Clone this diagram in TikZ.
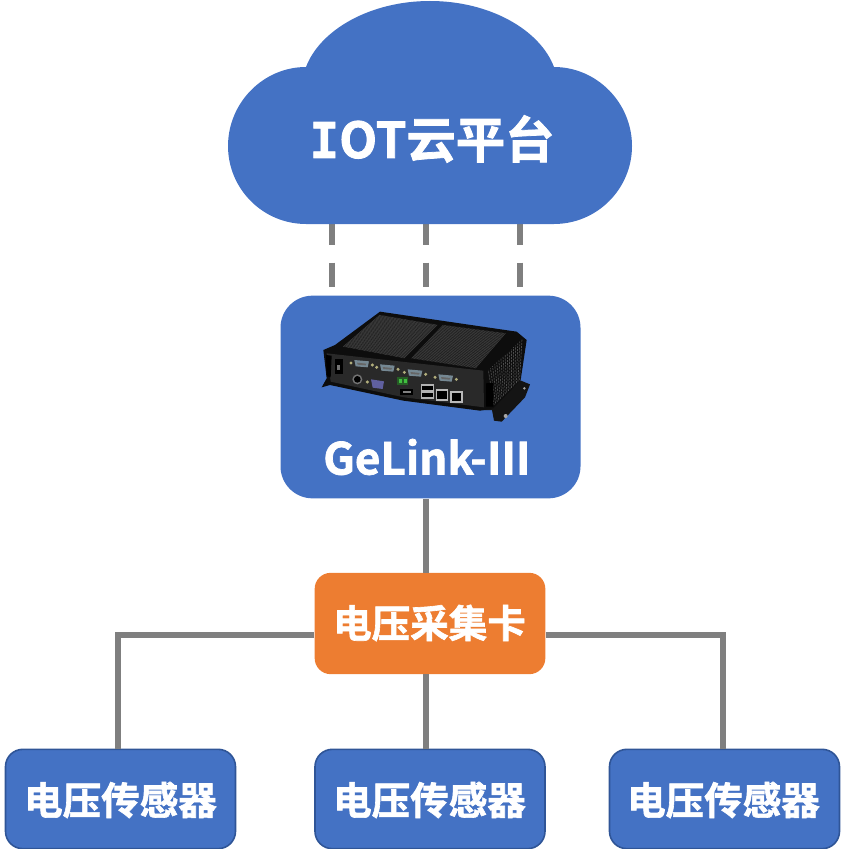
\documentclass[tikz,border=0pt]{standalone}
\usepackage{fontspec}
\newfontfamily\cjkf[BoldFont={Noto Sans CJK SC Bold},BoldFeatures={FakeBold=1.6}]{Noto Sans CJK SC}
\newfontfamily\slabf[BoldFeatures={FakeBold=1.2}]{DejaVu Sans Mono}
\definecolor{cblue}{HTML}{4472C4}
\definecolor{corange}{HTML}{ED7D31}
\definecolor{cgrey}{HTML}{7F7F7F}
\definecolor{cedge}{HTML}{2F5597}
\tikzset{
  px/.style={x=0.75pt,y=-0.75pt},
  txt/.style={text=white,font=\cjkf\bfseries,inner sep=0pt},
  bigtxt/.style={txt,font=\cjkf\bfseries\fontsize{37}{37}\selectfont},
  midtxt/.style={txt,font=\cjkf\bfseries\fontsize{28.9}{28.9}\selectfont},
  sensorbox/.style={draw=cedge,line width=1.2pt,fill=cblue,rounded corners=13pt,minimum width=172.5pt,minimum height=74.5pt,inner sep=0pt},
  link/.style={draw=cgrey,line width=4.5pt},
  dashlink/.style={draw=cgrey,line width=4.5pt,dash pattern=on 15.5pt off 13.5pt on 18pt off 100pt},
  fin/.style={line width=0.4pt,draw=black!74},
}
\begin{document}
\begin{tikzpicture}[px]
\useasboundingbox (0,0) rectangle (841,849);
% axes of the connectors
\coordinate (ax1) at (118,0);
\coordinate (ax2) at (426,0);
\coordinate (ax3) at (723,0);
\coordinate (dash1) at (332,0);
\coordinate (dash3) at (520,0);
\coordinate (bus) at (0,635);
% nodes
\node[minimum width=225pt,minimum height=152pt,fill=cblue,rounded corners=24pt,inner sep=0pt] (gelink) at (430.5,397) {};
\node[minimum width=173pt,minimum height=76pt,fill=corange,rounded corners=12pt,inner sep=0pt] (card) at (430,623.5) {};
\node[sensorbox] (s1) at (120.5,799) {};
\node[sensorbox] (s2) at (430,799) {};
\node[sensorbox] (s3) at (724.5,799) {};
\coordinate (cloudbase) at (430,224);
% connectors
\draw[dashlink] (cloudbase -| dash1) -- (gelink.north -| dash1);
\draw[dashlink] (cloudbase -| ax2) -- (gelink.north -| ax2);
\draw[dashlink] (cloudbase -| dash3) -- (gelink.north -| dash3);
\draw[link] (gelink.south -| ax2) -- (card.north -| ax2);
\draw[link] (card.south -| ax2) -- (s2.north -| ax2);
\draw[link] (card.west |- bus) -- (ax1 |- bus) -- (s1.north -| ax1);
\draw[link] (card.east |- bus) -- (ax3 |- bus) -- (s3.north -| ax3);
% cloud
\fill[cblue] (306,224) .. controls (263,224) and (228,189) .. (228,146)
  .. controls (228,103) and (263,67) .. (306,67)
  .. controls (320,30) and (370,1) .. (430,1)
  .. controls (490,1) and (540,30) .. (554,67)
  .. controls (597,67) and (632,103) .. (632,146)
  .. controls (632,189) and (597,224) .. (554,224) -- cycle;
% device picture (zoom coordinates)
\begin{scope}[shift={(280,290)},x=0.25pt,y=-0.25pt]
  % flange
  \fill[black!92] (600,360) -- (640,300) -- (718,270) -- (750,283) -- (735,322) -- (665,395) -- (642,392) -- (636,360) -- cycle;
  \fill[black!35] (677,378) circle (6);
  \fill[black!35] (733,295) circle (4);
  % body
  \fill[black!95] (130,180) -- (165,165) -- (300,65) -- (710,125) -- (740,150) -- (722,270) -- (640,355) -- (600,362) -- (370,332) -- (150,285) -- (125,292) -- (140,265) -- cycle;
  % fins of the top panels
  \foreach \t in {0,0.02,...,1}{
    \draw[fin] ({190+\t*185},{170+\t*35}) -- ({300+\t*175},{75+\t*30});
    \draw[fin] ({395+\t*195},{205+\t*30}) -- ({490+\t*190},{105+\t*25});
  }
  % right side fins
  \foreach \t in {0,0.06,...,1}{
    \draw[line width=0.55pt,draw=black!70,dash pattern=on 1.6pt off 0.8pt] ({642+\t*80},{345-\t*78}) -- ({625+\t*105},{240-\t*95});
  }
  % front face
  \fill[black!84] (140,190) -- (610,242) -- (612,352) -- (372,322) -- (152,275) -- cycle;
  \fill[black] (138,195) -- (155,197) -- (152,262) -- (140,258) -- cycle;
  \fill[black] (618,280) -- (640,278) -- (640,350) -- (618,350) -- cycle;
  % switch, round connector
  \fill[black] (166,208) rectangle (188,252);
  \fill[black!55] (172,225) rectangle (180,240);
  \fill[black!55] (232,268) circle (15);
  \fill[black] (232,268) circle (10);
  % serial ports
  \foreach \x/\y in {245/222,322/235,405/250,497/265}{
    \fill[black!45!cyan!40!gray] (\x-22,\y-12) -- (\x+22,\y-8) -- (\x+18,\y+10) -- (\x-18,\y+7) -- cycle;
    \fill[black!60] (\x-14,\y-4) -- (\x+14,\y-1) -- (\x+12,\y+4) -- (\x-12,\y+2) -- cycle;
    \fill[gray!70!yellow] (\x-32,\y-3) circle (5);
    \fill[gray!70!yellow] (\x+32,\y+3) circle (5);
  }
  % VGA
  \fill[blue!25!gray] (273,268) -- (312,274) -- (308,297) -- (278,293) -- cycle;
  \fill[gray!70!yellow] (262,276) circle (5);
  % terminal block
  \fill[green!30!black!70!gray] (350,262) rectangle (385,285);
  \fill[green!50!gray] (357,268) rectangle (365,280);
  \fill[green!50!gray] (372,268) rectangle (380,280);
  % HDMI
  \fill[black] (360,296) rectangle (400,316);
  \fill[gray] (368,302) rectangle (392,310);
  % USB
  \fill[gray!60!white] (422,282) rectangle (463,326);
  \fill[black] (427,288) rectangle (458,300);
  \fill[black] (427,308) rectangle (458,320);
  % LAN
  \fill[gray!55!white] (467,296) rectangle (505,334);
  \fill[black] (472,304) rectangle (500,328);
  \fill[gray!55!white] (510,302) rectangle (549,338);
  \fill[black] (515,310) rectangle (544,333);
\end{scope}
% texts
\node[bigtxt] (cloudtext) at (432,139) {{\slabf\bfseries I}OT云平台};
\node[txt,font=\cjkf\bfseries\fontsize{33}{33}\selectfont] (gltext) at (427,457) {GeLink-Ⅲ};
\node[midtxt] (cardtext) at (429.5,623) {电压采集卡};
\node[midtxt] (s1text) at (120.5,800) {电压传感器};
\node[midtxt] (s2text) at (429.5,800) {电压传感器};
\node[midtxt] (s3text) at (723.5,800) {电压传感器};
\end{tikzpicture}
\end{document}
